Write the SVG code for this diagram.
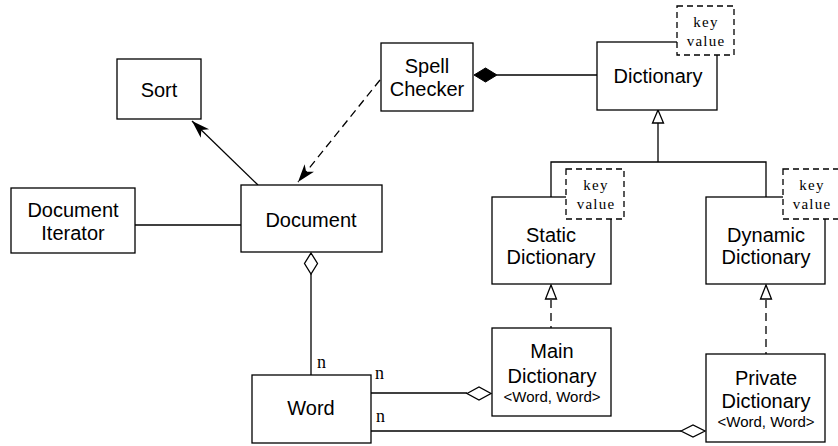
<svg xmlns="http://www.w3.org/2000/svg" width="838" height="446" viewBox="0 0 838 446">
<style>
.box{fill:#fff;stroke:#000;stroke-width:1.3}
.kv{fill:#fff;stroke:#000;stroke-width:1.3;stroke-dasharray:6,4}
.ln{fill:none;stroke:#000;stroke-width:1.3}
.dl{fill:none;stroke:#000;stroke-width:1.3;stroke-dasharray:8,5}
.t{font-family:"Liberation Sans",Arial,sans-serif;font-size:20px;fill:#000;text-anchor:middle}
.s{font-family:"Liberation Sans",Arial,sans-serif;font-size:15px;fill:#000;text-anchor:middle}
.k{font-family:"Liberation Serif","Times New Roman",serif;font-size:15px;letter-spacing:1.2px;fill:#000;text-anchor:middle}
.n{font-family:"Liberation Serif","Times New Roman",serif;font-size:18px;fill:#000}
.hollow{fill:#fff;stroke:#000;stroke-width:1.3}
.solid{fill:#000;stroke:#000;stroke-width:1}
</style>
<defs>
<marker id="arr" markerWidth="20" markerHeight="14" refX="18" refY="7" orient="auto" markerUnits="userSpaceOnUse">
<path d="M0,1 L18,7 L0,13 L5,7 Z" fill="#000"/>
</marker>
</defs>
<g id="connectors">
<line class="ln" x1="258" y1="185" x2="192" y2="121" marker-end="url(#arr)"/>
<line class="dl" x1="380" y1="80" x2="298" y2="182" marker-end="url(#arr)"/>
<line class="ln" x1="135" y1="225" x2="241" y2="225"/>
<line class="ln" x1="497" y1="75" x2="597" y2="75"/>
<path class="solid" d="M474,75 L485.5,68 L497,75 L485.5,82 Z"/>
<line class="ln" x1="658" y1="123" x2="658" y2="162"/>
<polyline class="ln" points="551,197 551,162 766,162 766,197"/>
<path class="hollow" d="M658,110 L663.5,123 L652.5,123 Z"/>
<line class="dl" x1="551" y1="300" x2="551" y2="328"/>
<path class="hollow" d="M551,285 L556.5,299 L545.5,299 Z"/>
<line class="dl" x1="766" y1="300" x2="766" y2="354"/>
<path class="hollow" d="M766,285 L771.5,299 L760.5,299 Z"/>
<line class="ln" x1="311" y1="274" x2="311" y2="375"/>
<path class="hollow" d="M311,253 L317.5,263.5 L311,274 L304.5,263.5 Z"/>
<line class="ln" x1="371" y1="393" x2="467" y2="393"/>
<path class="hollow" d="M467,393.5 L479,387 L491,393.5 L479,400 Z"/>
<line class="ln" x1="371" y1="431" x2="681" y2="431"/>
<path class="hollow" d="M681,431 L693,425 L705,431 L693,437 Z"/>
<text class="n" x="317" y="368">n</text>
<text class="n" x="375" y="379">n</text>
<text class="n" x="376" y="422">n</text>
</g>
<g id="sort">
<rect class="box" x="117" y="59" width="84" height="60"/>
<text class="t" x="159" y="97">Sort</text>
</g>
<g id="spell-checker">
<rect class="box" x="381" y="43" width="92" height="68"/>
<text class="t" x="427" y="73">Spell</text>
<text class="t" x="427" y="96">Checker</text>
</g>
<g id="dictionary">
<rect class="box" x="597" y="42" width="120" height="68"/>
<text class="t" x="658" y="83">Dictionary</text>
<rect class="kv" x="677" y="6" width="57" height="49"/>
<text class="k" x="706" y="27">key</text>
<text class="k" x="706" y="46">value</text>
</g>
<g id="document">
<rect class="box" x="241" y="185" width="141" height="67"/>
<text class="t" x="311" y="227">Document</text>
</g>
<g id="document-iterator">
<rect class="box" x="11" y="188" width="124" height="65"/>
<text class="t" x="73" y="217">Document</text>
<text class="t" x="73" y="240">Iterator</text>
</g>
<g id="static-dictionary">
<rect class="box" x="492" y="197" width="119" height="87"/>
<text class="t" x="551" y="242">Static</text>
<text class="t" x="551" y="264">Dictionary</text>
<rect class="kv" x="566" y="169" width="58" height="50"/>
<text class="k" x="596" y="190">key</text>
<text class="k" x="596" y="209">value</text>
</g>
<g id="dynamic-dictionary">
<rect class="box" x="706" y="197" width="119" height="87"/>
<text class="t" x="766" y="242">Dynamic</text>
<text class="t" x="766" y="264">Dictionary</text>
<rect class="kv" x="783" y="169" width="58" height="50"/>
<text class="k" x="812" y="190">key</text>
<text class="k" x="812" y="209">value</text>
</g>
<g id="main-dictionary">
<rect class="box" x="492" y="328" width="119" height="88"/>
<text class="t" x="552" y="358">Main</text>
<text class="t" x="552" y="383">Dictionary</text>
<text class="s" x="552" y="402">&lt;Word, Word&gt;</text>
</g>
<g id="private-dictionary">
<rect class="box" x="706" y="354" width="119" height="88"/>
<text class="t" x="766" y="385">Private</text>
<text class="t" x="766" y="408">Dictionary</text>
<text class="s" x="766" y="427">&lt;Word, Word&gt;</text>
</g>
<g id="word">
<rect class="box" x="252" y="375" width="119" height="68"/>
<text class="t" x="311" y="415">Word</text>
</g>
</svg>
